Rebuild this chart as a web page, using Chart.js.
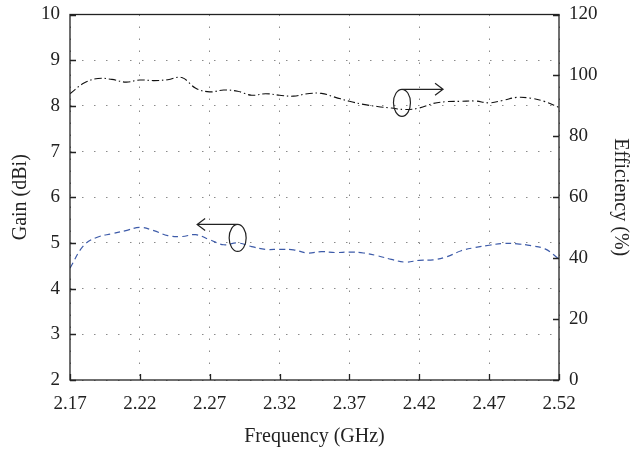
<!DOCTYPE html>
<html>
<head>
<meta charset="utf-8">
<script src="https://cdn.jsdelivr.net/npm/chart.js@4.4.1/dist/chart.umd.min.js"></script>
<style>
  html, body { margin: 0; padding: 0; background: #fff; }
  #wrap { width: 630px; height: 449px; }
</style>
</head>
<body>
<div id="wrap"><canvas id="chart" width="630" height="449"></canvas></div>
<script>
// Frequency samples (GHz)
const freq = [
  2.17, 2.18, 2.19, 2.20, 2.21, 2.22, 2.23, 2.24, 2.25, 2.26, 2.27, 2.28,
  2.29, 2.30, 2.31, 2.32, 2.33, 2.34, 2.35, 2.36, 2.37, 2.38, 2.39, 2.40,
  2.41, 2.42, 2.43, 2.44, 2.45, 2.46, 2.47, 2.48, 2.49, 2.50, 2.51, 2.52
];
// Gain (dBi), left axis
const gain = [
  4.45, 4.95, 5.13, 5.20, 5.27, 5.34, 5.27, 5.16, 5.14, 5.18, 5.07, 4.96,
  5.00, 4.92, 4.86, 4.86, 4.85, 4.78, 4.81, 4.79, 4.80, 4.78, 4.72, 4.64,
  4.58, 4.62, 4.63, 4.70, 4.83, 4.90, 4.95, 4.99, 4.98, 4.94, 4.87, 4.65
];
// Efficiency (%), right axis
const efficiency = [
  94.0, 97.5, 99.0, 98.7, 97.8, 98.5, 98.3, 98.6, 99.3, 95.8, 94.6, 95.2,
  94.8, 93.5, 94.0, 93.5, 93.2, 94.0, 94.1, 92.8, 91.5, 90.5, 89.8, 89.3,
  88.8, 89.3, 90.8, 91.4, 91.5, 91.6, 91.0, 91.8, 92.8, 92.5, 91.4, 89.5
];
const xTicks = [2.17, 2.22, 2.27, 2.32, 2.37, 2.42, 2.47, 2.52];
const gainTicks = [2, 3, 4, 5, 6, 7, 8, 9, 10];
const effTicks = [0, 20, 40, 60, 80, 100, 120];

// annotation markers: ellipse centre + arrow tip, in data units
const gainMarker = { x: 2.290, y: 5.11, tipX: 2.261 };
const effMarker = { x: 2.4076, y: 91.0, tipX: 2.437 };

const FONT = "'Liberation Serif', 'DejaVu Serif', serif";
const INK = '#222';
const GRID = '#8a8a8a';

// frame + inward tick marks
const framePlugin = {
    id: 'frame',
    afterDraw(chart) {
        const { ctx, chartArea: a, scales } = chart;
        ctx.save();
        ctx.strokeStyle = INK;
        ctx.lineWidth = 1.3;
        ctx.strokeRect(a.left, a.top, a.right - a.left, a.bottom - a.top);
        const len = 6;
        ctx.beginPath();
        scales.x.ticks.forEach(t => {
            const px = Math.round(scales.x.getPixelForValue(t.value)) + 0.5;
            ctx.moveTo(px, a.bottom);
            ctx.lineTo(px, a.bottom - len);
        });
        scales.y.ticks.forEach(t => {
            const py = Math.round(scales.y.getPixelForValue(t.value)) + 0.5;
            ctx.moveTo(a.left, py);
            ctx.lineTo(a.left + len, py);
        });
        scales.y1.ticks.forEach(t => {
            const py = Math.round(scales.y1.getPixelForValue(t.value)) + 0.5;
            ctx.moveTo(a.right, py);
            ctx.lineTo(a.right - len, py);
        });
        ctx.stroke();
        ctx.restore();
    }
};

// ellipse + arrow showing which axis each curve belongs to
function drawMarker(ctx, xs, ys, m) {
    const cx = xs.getPixelForValue(m.x);
    const cy = ys.getPixelForValue(m.y);
    const rx = 8.5, ry = 13.5;
    const tip = xs.getPixelForValue(m.tipX);
    const top = cy - ry;
    ctx.beginPath();
    ctx.ellipse(cx, cy, rx, ry, 0, 0, Math.PI * 2);
    ctx.moveTo(cx, top);
    ctx.lineTo(tip, top);
    const dir = tip > cx ? -1 : 1;
    ctx.moveTo(tip + dir * 8, top - 6);
    ctx.lineTo(tip, top);
    ctx.lineTo(tip + dir * 8, top + 6);
    ctx.stroke();
}

const markerPlugin = {
    id: 'markers',
    afterDatasetsDraw(chart) {
        const { ctx, scales } = chart;
        ctx.save();
        ctx.strokeStyle = INK;
        ctx.lineWidth = 1.2;
        drawMarker(ctx, scales.x, scales.y, gainMarker);
        drawMarker(ctx, scales.x, scales.y1, effMarker);
        ctx.restore();
    }
};

// keep edge tick labels from pushing the plot area inward
function fixAxis(size) {
    return axis => {
        if (axis.isHorizontal()) axis.height = size; else axis.width = size;
        axis.paddingTop = 0;
        axis.paddingBottom = 0;
        axis.paddingLeft = 0;
        axis.paddingRight = 0;
    };
}

const tickFont = { family: FONT, size: 19 };
const titleFont = { family: FONT, size: 20 };

const ctx = document.getElementById('chart').getContext('2d');
new Chart(ctx, {
    type: 'line',
    data: {
        datasets: [
            {
                label: 'Gain',
                data: freq.map((f, i) => ({ x: f, y: gain[i] })),
                yAxisID: 'y',
                borderColor: '#3d5ba9',
                borderWidth: 1.2,
                borderDash: [6, 4],
                pointRadius: 0,
                tension: 0.4,
                fill: false
            },
            {
                label: 'Efficiency',
                data: freq.map((f, i) => ({ x: f, y: efficiency[i] })),
                yAxisID: 'y1',
                borderColor: '#111',
                borderWidth: 1.1,
                borderDash: [7, 3, 1.5, 3],
                pointRadius: 0,
                tension: 0.4,
                fill: false
            }
        ]
    },
    options: {
        responsive: false,
        animation: false,
        layout: { padding: { top: 14.5, left: 0, right: 0, bottom: 0 } },
        plugins: { legend: { display: false }, tooltip: { enabled: false } },
        scales: {
            x: {
                type: 'linear',
                min: 2.17,
                max: 2.52,
                afterBuildTicks: axis => { axis.ticks = xTicks.map(v => ({ value: v })); },
                afterFit: fixAxis(69),
                border: { display: false, dash: [1.5, 10.5] },
                grid: { drawTicks: false, color: GRID, lineWidth: 1 },
                ticks: {
                    padding: 13,
                    color: INK,
                    font: tickFont,
                    callback: v => Number(v).toFixed(2)
                },
                title: {
                    display: true,
                    text: 'Frequency (GHz)',
                    color: INK,
                    font: titleFont,
                    padding: { bottom: 0 }
                }
            },
            y: {
                position: 'left',
                min: 2,
                max: 10,
                afterBuildTicks: axis => { axis.ticks = gainTicks.map(v => ({ value: v })); },
                afterFit: fixAxis(70),
                border: { display: false, dash: [1.5, 10.5] },
                grid: { drawTicks: false, color: GRID, lineWidth: 1 },
                ticks: { padding: 10, color: INK, font: tickFont },
                title: {
                    display: true,
                    text: 'Gain (dBi)',
                    color: INK,
                    font: titleFont,
                    padding: { top: 9 }
                }
            },
            y1: {
                position: 'right',
                min: 0,
                max: 120,
                afterBuildTicks: axis => { axis.ticks = effTicks.map(v => ({ value: v })); },
                afterFit: fixAxis(71),
                border: { display: false },
                grid: { display: false, drawTicks: false },
                ticks: { padding: 10, color: INK, font: tickFont },
                title: {
                    display: true,
                    text: 'Efficiency (%)',
                    color: INK,
                    font: titleFont,
                    padding: { top: -2 }
                }
            }
        }
    },
    plugins: [framePlugin, markerPlugin]
});
</script>
</body>
</html>
